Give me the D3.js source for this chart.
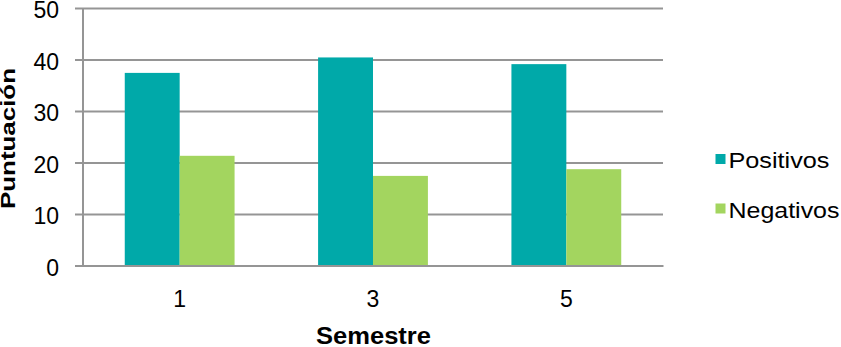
<!DOCTYPE html>
<html>
<head>
<meta charset="utf-8">
<script src="https://cdn.jsdelivr.net/npm/d3@7"></script>
<style>
  body { margin: 0; background: #fff; }
  text { font-family: "Liberation Sans", Arial, sans-serif; fill: #000; }
</style>
</head>
<body>
<script>
// Data
var semesters = ["1", "3", "5"];
var seriesNames = ["Positivos", "Negativos"];
var positivos = [37.4, 40.4, 39.1];
var negativos = [21.3, 17.4, 18.7];
var yTicks = [0, 10, 20, 30, 40, 50];
var colors = ["#00a9a9", "#a3d55f"];

var svgWidth = 841;
var svgHeight = 347;

var margin = { top: 8, right: 178, bottom: 81.5, left: 83 };
var chartWidth = svgWidth - margin.left - margin.right;
var chartHeight = svgHeight - margin.top - margin.bottom;

var svg = d3.select("body")
  .append("svg")
  .attr("width", svgWidth)
  .attr("height", svgHeight);

var chartGroup = svg.append("g")
  .attr("transform", "translate(" + margin.left + ", " + margin.top + ")");

// build rows from the arrays
var rows = semesters.map(function (s, i) {
  return { semester: s, values: [positivos[i], negativos[i]] };
});

var x0 = d3.scaleBand()
  .domain(semesters)
  .range([0, chartWidth])
  .paddingInner(0.432)
  .paddingOuter(0.216);

var x1 = d3.scaleBand()
  .domain(d3.range(seriesNames.length))
  .range([0, x0.bandwidth()]);

var y = d3.scaleLinear()
  .domain([0, 50])
  .range([chartHeight, 0]);

// horizontal gridlines + left ticks
var leftAxis = d3.axisLeft(y)
  .tickValues(yTicks)
  .tickSize(-chartWidth);

var yAxisG = chartGroup.append("g").call(leftAxis);
yAxisG.select(".domain").remove();
yAxisG.selectAll(".tick line")
  .attr("x1", -8)
  .attr("stroke", "#959595")
  .attr("stroke-width", 2);
yAxisG.selectAll(".tick text")
  .style("font-size", "23px")
  .attr("x", -24)
  .attr("y", 2.5);

// vertical axis line
chartGroup.append("line")
  .attr("x1", 0).attr("x2", 0)
  .attr("y1", 0).attr("y2", chartHeight)
  .attr("stroke", "#959595")
  .attr("stroke-width", 2);

// bars
var groups = chartGroup.selectAll(".group")
  .data(rows)
  .enter()
  .append("g")
  .attr("transform", function (d) { return "translate(" + x0(d.semester) + ",0)"; });

groups.selectAll("rect")
  .data(function (d) { return d.values; })
  .enter()
  .append("rect")
  .attr("x", function (d, i) { return x1(i); })
  .attr("width", x1.bandwidth())
  .attr("y", function (d) { return y(d); })
  .attr("height", function (d) { return chartHeight - y(d); })
  .attr("fill", function (d, i) { return colors[i]; });

// bottom axis
var bottomAxis = d3.axisBottom(x0).tickSize(0).tickPadding(25);
var xAxisG = chartGroup.append("g")
  .attr("transform", "translate(0, " + chartHeight + ")")
  .call(bottomAxis);
xAxisG.select(".domain")
  .attr("stroke", "#959595")
  .attr("stroke-width", 2);
xAxisG.selectAll(".tick text").style("font-size", "23px");

// axis titles
svg.append("text")
  .attr("x", 373.5)
  .attr("y", 344)
  .attr("text-anchor", "middle")
  .attr("textLength", 115)
  .attr("lengthAdjust", "spacingAndGlyphs")
  .style("font-size", "23px")
  .style("font-weight", "bold")
  .text("Semestre");

svg.append("text")
  .attr("transform", "translate(15, 138.5) rotate(-90)")
  .attr("text-anchor", "middle")
  .attr("textLength", 141)
  .attr("lengthAdjust", "spacingAndGlyphs")
  .style("font-size", "19.5px")
  .style("font-weight", "bold")
  .text("Puntuación");

// legend
var legendWidths = [101, 111];
var legend = svg.append("g").attr("transform", "translate(715.5, 168)");
seriesNames.forEach(function (name, i) {
  var row = legend.append("g").attr("transform", "translate(0," + (i * 49.5) + ")");
  row.append("rect")
    .attr("x", 0).attr("y", -14)
    .attr("width", 10).attr("height", 10)
    .attr("fill", colors[i]);
  row.append("text")
    .attr("x", 13).attr("y", 0)
    .attr("textLength", legendWidths[i])
    .attr("lengthAdjust", "spacingAndGlyphs")
    .style("font-size", "22px")
    .text(name);
});
</script>
</body>
</html>
